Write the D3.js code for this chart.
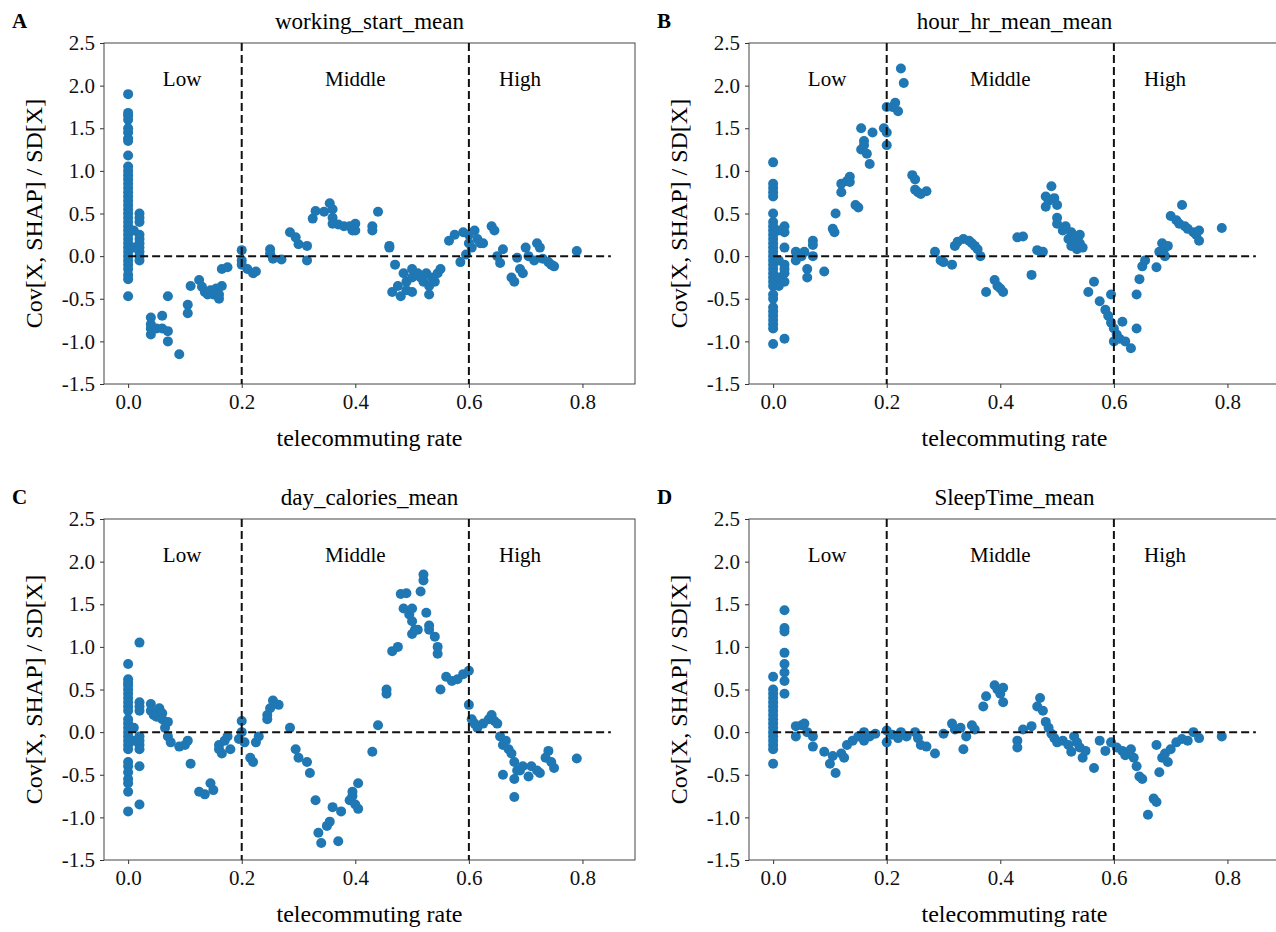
<!DOCTYPE html>
<html>
<head>
<meta charset="utf-8">
<script src="https://cdn.jsdelivr.net/npm/d3@7"></script>
<style>
  body { margin: 0; background: #fff; }
  svg { font-family: "Liberation Serif", "Times New Roman", serif; }
</style>
</head>
<body>
<div id="chart"></div>
<script>
// ---- data ----
const letters = ["A", "B", "C", "D"];
const titles  = ["working_start_mean", "hour_hr_mean_mean", "day_calories_mean", "SleepTime_mean"];
const xTicks  = [0, 0.2, 0.4, 0.6, 0.8];
const yTicks  = [-1.5, -1.0, -0.5, 0.0, 0.5, 1.0, 1.5, 2.0, 2.5];
const cutoffs = [0.2, 0.6];
const regionNames = ["Low", "Middle", "High"];
const regionX     = [0.095, 0.40, 0.69];

// panel A: working_start_mean
const aZero = [1.9,1.68,1.65,1.6,1.5,1.45,1.38,1.35,1.18,1.05,1.0,0.95,0.9,0.85,0.8,0.75,0.7,0.65,0.6,0.55,0.5,0.45,0.4,0.35,0.3,0.25,0.2,0.15,0.1,0.05,0.0,-0.05,-0.1,-0.15,-0.22,-0.27,-0.47];
const aNear = [[0.02,0.5],[0.02,0.45],[0.02,0.4],[0.02,0.25],[0.02,0.2],[0.02,0.15],[0.02,0.1],[0.02,0.05],[0.02,0.0],[0.02,-0.05],[0.01,0.3],[0.01,0.1]];
const aRest = [[0.04,-0.72],[0.04,-0.8],[0.04,-0.85],[0.04,-0.92],[0.05,-0.85],[0.06,-0.7],[0.06,-0.85],[0.07,-0.47],[0.07,-0.88],[0.07,-1.0],[0.09,-1.15],
  [0.105,-0.57],[0.105,-0.67],[0.11,-0.35],[0.125,-0.28],[0.13,-0.36],[0.135,-0.42],[0.14,-0.45],[0.145,-0.4],[0.15,-0.45],[0.155,-0.38],[0.16,-0.5],[0.16,-0.45],
  [0.165,-0.35],[0.165,-0.15],[0.175,-0.13],[0.2,0.07],[0.2,-0.05],[0.2,-0.1],[0.21,-0.15],[0.22,-0.2],[0.225,-0.18],[0.25,0.08],[0.25,0.03],[0.255,-0.03],
  [0.27,-0.04],[0.285,0.28],[0.295,0.22],[0.3,0.14],[0.315,0.12],[0.315,-0.05],[0.325,0.44],[0.33,0.53],[0.345,0.52],[0.355,0.62],[0.36,0.55],[0.36,0.45],
  [0.36,0.38],[0.37,0.37],[0.38,0.35],[0.39,0.35],[0.395,0.3],[0.4,0.38],[0.4,0.3],[0.43,0.35],[0.43,0.3],[0.44,0.52],[0.46,0.12],[0.46,0.1],[0.47,-0.1],
  [0.465,-0.42],[0.475,-0.35],[0.48,-0.47],[0.485,-0.2],[0.49,-0.3],[0.49,-0.4],[0.5,-0.15],[0.5,-0.25],[0.5,-0.42],[0.51,-0.2],[0.515,-0.25],[0.52,-0.3],
  [0.525,-0.2],[0.53,-0.35],[0.53,-0.45],[0.535,-0.25],[0.54,-0.3],[0.545,-0.2],[0.55,-0.15],[0.565,0.18],[0.575,0.25],[0.585,-0.07],[0.59,0.28],[0.595,0.02],
  [0.6,0.15],[0.6,0.25],[0.605,0.1],[0.61,0.3],[0.615,0.2],[0.62,0.15],[0.625,0.15],[0.64,0.35],[0.645,0.3],[0.65,0.0],[0.655,-0.08],[0.66,0.08],[0.675,-0.25],
  [0.68,-0.3],[0.685,-0.02],[0.69,-0.15],[0.695,-0.2],[0.7,0.1],[0.705,0.0],[0.715,-0.05],[0.72,0.15],[0.725,0.1],[0.73,-0.03],[0.74,-0.07],[0.745,-0.1],
  [0.75,-0.12],[0.79,0.06]];

// panel B: hour_hr_mean_mean
const bZero = [1.1,0.85,0.8,0.75,0.7,0.5,0.4,0.35,0.3,0.25,0.2,0.15,0.1,0.05,0.0,-0.05,-0.1,-0.15,-0.2,-0.25,-0.3,-0.35,-0.45,-0.5,-0.6,-0.65,-0.7,-0.75,-0.8,-0.85,-1.03];
const bNear = [[0.02,0.35],[0.02,0.28],[0.02,0.1],[0.02,-0.1],[0.02,-0.15],[0.02,-0.2],[0.02,-0.3],[0.02,-0.97],[0.01,0.3],[0.01,-0.05],[0.01,-0.25],[0.01,-0.35]];
const bRest = [[0.04,0.05],[0.04,-0.05],[0.05,0.0],[0.055,0.05],[0.06,-0.15],[0.06,-0.25],[0.07,0.18],[0.07,0.13],[0.07,0.0],[0.09,-0.18],[0.105,0.32],
  [0.108,0.28],[0.11,0.5],[0.12,0.85],[0.12,0.75],[0.13,0.88],[0.135,0.93],[0.135,0.87],[0.145,0.6],[0.15,0.57],[0.155,1.5],[0.155,1.25],[0.16,1.35],
  [0.16,1.3],[0.165,1.2],[0.17,1.08],[0.175,1.45],[0.195,1.5],[0.2,1.45],[0.2,1.3],[0.2,1.75],[0.21,1.75],[0.215,1.8],[0.22,1.7],[0.225,2.2],[0.23,2.03],
  [0.245,0.95],[0.25,0.9],[0.25,0.78],[0.255,0.75],[0.26,0.73],[0.27,0.76],[0.285,0.05],[0.295,-0.05],[0.3,-0.07],[0.315,-0.1],[0.32,0.12],[0.325,0.17],
  [0.335,0.2],[0.345,0.18],[0.35,0.15],[0.355,0.12],[0.36,0.08],[0.365,0.0],[0.375,-0.42],[0.39,-0.28],[0.395,-0.35],[0.4,-0.38],[0.405,-0.42],[0.43,0.22],
  [0.44,0.23],[0.455,-0.22],[0.465,0.07],[0.475,0.05],[0.48,0.7],[0.48,0.58],[0.485,0.65],[0.49,0.82],[0.495,0.68],[0.5,0.6],[0.5,0.45],[0.5,0.38],
  [0.51,0.3],[0.515,0.35],[0.52,0.2],[0.525,0.28],[0.525,0.12],[0.53,0.2],[0.535,0.08],[0.54,0.15],[0.54,0.25],[0.545,0.1],[0.555,-0.42],[0.565,-0.3],
  [0.575,-0.53],[0.585,-0.63],[0.59,-0.7],[0.595,-0.45],[0.595,-0.78],[0.6,-0.85],[0.6,-1.0],[0.605,-0.92],[0.61,-0.97],[0.615,-0.77],[0.62,-1.0],
  [0.63,-1.08],[0.64,-0.85],[0.64,-0.45],[0.645,-0.27],[0.65,-0.12],[0.655,-0.05],[0.675,-0.13],[0.68,0.05],[0.685,0.15],[0.69,0.1],[0.695,0.12],
  [0.69,0.0],[0.7,0.47],[0.71,0.42],[0.715,0.38],[0.72,0.6],[0.725,0.35],[0.73,0.32],[0.74,0.28],[0.745,0.25],[0.75,0.3],[0.75,0.18],[0.79,0.33]];

// panel C: day_calories_mean
const cZero = [0.8,0.62,0.58,0.55,0.5,0.45,0.4,0.35,0.3,0.25,0.15,0.1,0.05,0.0,-0.05,-0.1,-0.15,-0.2,-0.35,-0.4,-0.47,-0.55,-0.6,-0.7,-0.93];
const cNear = [[0.02,1.05],[0.02,0.35],[0.02,0.3],[0.02,0.25],[0.02,-0.05],[0.02,-0.1],[0.02,-0.15],[0.02,-0.2],[0.02,-0.4],[0.02,-0.85],[0.01,0.05],[0.01,-0.1]];
const cRest = [[0.04,0.33],[0.04,0.25],[0.045,0.2],[0.05,0.18],[0.055,0.28],[0.06,0.22],[0.06,0.15],[0.065,0.05],[0.07,0.12],[0.07,-0.05],[0.075,-0.12],
  [0.09,-0.17],[0.1,-0.15],[0.105,-0.1],[0.11,-0.37],[0.125,-0.7],[0.135,-0.73],[0.145,-0.6],[0.15,-0.68],[0.16,-0.15],[0.16,-0.2],[0.165,-0.25],
  [0.17,-0.1],[0.175,-0.05],[0.18,-0.2],[0.195,-0.08],[0.2,0.13],[0.2,0.0],[0.205,-0.12],[0.215,-0.3],[0.22,-0.35],[0.225,-0.12],[0.23,-0.05],[0.245,0.2],
  [0.245,0.15],[0.25,0.28],[0.255,0.37],[0.265,0.32],[0.285,0.05],[0.295,-0.2],[0.3,-0.3],[0.315,-0.35],[0.32,-0.48],[0.33,-0.8],[0.335,-1.18],[0.34,-1.3],
  [0.35,-1.1],[0.355,-1.05],[0.36,-0.88],[0.37,-1.28],[0.375,-0.93],[0.39,-0.8],[0.395,-0.75],[0.395,-0.7],[0.4,-0.85],[0.405,-0.6],[0.405,-0.9],[0.43,-0.23],
  [0.44,0.08],[0.455,0.5],[0.455,0.45],[0.465,0.95],[0.475,1.0],[0.48,1.62],[0.485,1.45],[0.49,1.63],[0.495,1.38],[0.5,1.45],[0.5,1.3],[0.5,1.15],
  [0.505,1.2],[0.51,1.2],[0.515,1.65],[0.52,1.78],[0.52,1.85],[0.525,1.4],[0.53,1.25],[0.53,1.2],[0.54,1.12],[0.545,1.0],[0.545,0.92],[0.55,0.5],
  [0.56,0.65],[0.57,0.6],[0.58,0.62],[0.59,0.68],[0.6,0.72],[0.6,0.32],[0.605,0.15],[0.61,0.1],[0.615,0.05],[0.625,0.1],[0.635,0.15],[0.64,0.2],
  [0.645,0.13],[0.65,0.1],[0.655,-0.05],[0.66,-0.15],[0.665,-0.1],[0.67,-0.2],[0.675,-0.25],[0.66,-0.5],[0.68,-0.35],[0.68,-0.55],[0.685,-0.45],
  [0.68,-0.76],[0.69,-0.45],[0.695,-0.4],[0.705,-0.52],[0.71,-0.4],[0.72,-0.45],[0.725,-0.48],[0.735,-0.3],[0.74,-0.22],[0.745,-0.35],[0.75,-0.42],[0.79,-0.31]];

// panel D: SleepTime_mean
const dZero = [0.65,0.5,0.45,0.4,0.35,0.3,0.25,0.2,0.15,0.1,0.05,0.0,-0.05,-0.1,-0.15,-0.2,-0.37];
const dNear = [[0.02,1.43],[0.02,1.22],[0.02,1.18],[0.02,0.93],[0.02,0.8],[0.02,0.7],[0.02,0.6],[0.02,0.45]];
const dRest = [[0.04,0.07],[0.04,-0.05],[0.05,0.08],[0.055,0.1],[0.06,0.0],[0.07,-0.05],[0.07,-0.17],[0.09,-0.23],[0.1,-0.37],[0.105,-0.28],[0.11,-0.48],
  [0.12,-0.25],[0.125,-0.3],[0.13,-0.15],[0.14,-0.1],[0.15,-0.05],[0.16,-0.1],[0.16,0.0],[0.17,-0.05],[0.18,-0.02],[0.2,0.02],[0.2,-0.12],[0.21,-0.03],
  [0.22,-0.07],[0.225,0.0],[0.235,-0.05],[0.25,0.0],[0.255,-0.07],[0.26,-0.15],[0.27,-0.17],[0.285,-0.25],[0.3,-0.02],[0.315,0.1],[0.32,0.03],[0.33,0.05],
  [0.335,-0.2],[0.34,-0.05],[0.35,0.08],[0.355,0.03],[0.37,0.3],[0.375,0.42],[0.39,0.55],[0.395,0.5],[0.4,0.45],[0.405,0.35],[0.405,0.52],[0.43,-0.1],
  [0.43,-0.18],[0.44,0.03],[0.455,0.07],[0.465,0.3],[0.47,0.4],[0.475,0.25],[0.48,0.12],[0.485,0.05],[0.49,-0.02],[0.495,-0.07],[0.5,-0.12],[0.51,-0.1],
  [0.52,-0.15],[0.525,-0.23],[0.53,-0.05],[0.535,-0.12],[0.54,-0.18],[0.545,-0.3],[0.55,-0.22],[0.565,-0.42],[0.575,-0.1],[0.585,-0.22],[0.595,-0.12],
  [0.605,-0.18],[0.615,-0.22],[0.62,-0.27],[0.63,-0.2],[0.635,-0.3],[0.64,-0.4],[0.645,-0.52],[0.65,-0.55],[0.66,-0.97],[0.67,-0.78],[0.675,-0.82],
  [0.675,-0.15],[0.68,-0.47],[0.685,-0.3],[0.69,-0.25],[0.695,-0.35],[0.7,-0.2],[0.71,-0.12],[0.72,-0.08],[0.73,-0.1],[0.74,0.0],[0.75,-0.07],[0.79,-0.05]];

const panelPoints = [
  aZero.map(y => [0, y]).concat(aNear, aRest),
  bZero.map(y => [0, y]).concat(bNear, bRest),
  cZero.map(y => [0, y]).concat(cNear, cRest),
  dZero.map(y => [0, y]).concat(dNear, dRest)
];

// ---- layout ----
const W = 1276, H = 932;
const plotW = 531, plotH = 341;
const origins = [[104, 43], [749, 43], [104, 519], [749, 519]];
const dotColor = "#1f77b4";

const svg = d3.select("#chart").append("svg")
  .attr("width", W)
  .attr("height", H);

panelPoints.forEach((pts, i) => {
  const [ox, oy] = origins[i];
  const x = d3.scaleLinear().domain([-0.0425, 0.8925]).range([0, plotW]);
  const y = d3.scaleLinear().domain([-1.5, 2.5]).range([plotH, 0]);

  const g = svg.append("g").attr("transform", `translate(${ox},${oy})`);

  // panel letter + title
  g.append("text")
    .attr("x", 12 - ox + (i % 2) * 645).attr("y", -15)
    .style("font-size", "21px").style("font-weight", "bold")
    .text(letters[i]);
  g.append("text")
    .attr("x", plotW / 2).attr("y", -14)
    .attr("text-anchor", "middle")
    .style("font-size", "23px")
    .text(titles[i]);

  // axes
  const xAxis = g.append("g")
    .attr("transform", `translate(0,${plotH})`)
    .call(d3.axisBottom(x).tickValues(xTicks).tickFormat(d3.format(".1f")).tickSizeOuter(0).tickSize(4).tickPadding(6));
  const yAxis = g.append("g")
    .call(d3.axisLeft(y).tickValues(yTicks).tickFormat(d => d3.format(".1f")(d).replace("−", "-")).tickSizeOuter(0).tickSize(4).tickPadding(5));
  [xAxis, yAxis].forEach(a => {
    a.select(".domain").remove();
    a.selectAll("line").attr("stroke", "#333");
    a.selectAll("text").style("font-family", "Liberation Serif, serif").style("font-size", "21px").attr("fill", "#111");
  });

  // frame
  g.append("rect")
    .attr("width", plotW).attr("height", plotH)
    .attr("fill", "none").attr("stroke", "#444").attr("stroke-width", 1);

  // axis labels
  g.append("text")
    .attr("x", plotW / 2).attr("y", plotH + 62)
    .attr("text-anchor", "middle")
    .style("font-size", "24px")
    .text("telecommuting rate");
  g.append("text")
    .attr("transform", `translate(${-62},${plotH / 2}) rotate(-90)`)
    .attr("text-anchor", "middle")
    .style("font-size", "24px")
    .text("Cov[X, SHAP] / SD[X]");

  const clip = g.append("g");

  // scatter
  clip.selectAll("circle")
    .data(pts)
    .join("circle")
    .attr("cx", d => x(d[0]))
    .attr("cy", d => y(d[1]))
    .attr("r", 5)
    .attr("fill", dotColor);

  // reference lines
  clip.selectAll("line.cut")
    .data(cutoffs)
    .join("line")
    .attr("class", "cut")
    .attr("x1", d => x(d)).attr("x2", d => x(d))
    .attr("y1", 0).attr("y2", plotH)
    .attr("stroke", "#111").attr("stroke-width", 2)
    .attr("stroke-dasharray", "8,4");
  clip.append("line")
    .attr("x1", x(0)).attr("x2", x(0.85))
    .attr("y1", y(0)).attr("y2", y(0))
    .attr("stroke", "#111").attr("stroke-width", 2)
    .attr("stroke-dasharray", "8,4");

  // region labels
  clip.selectAll("text.region")
    .data(regionNames)
    .join("text")
    .attr("class", "region")
    .attr("x", (d, k) => x(regionX[k]))
    .attr("y", y(2.0))
    .attr("text-anchor", "middle")
    .style("font-size", "21px")
    .text(d => d);
});
</script>
</body>
</html>
